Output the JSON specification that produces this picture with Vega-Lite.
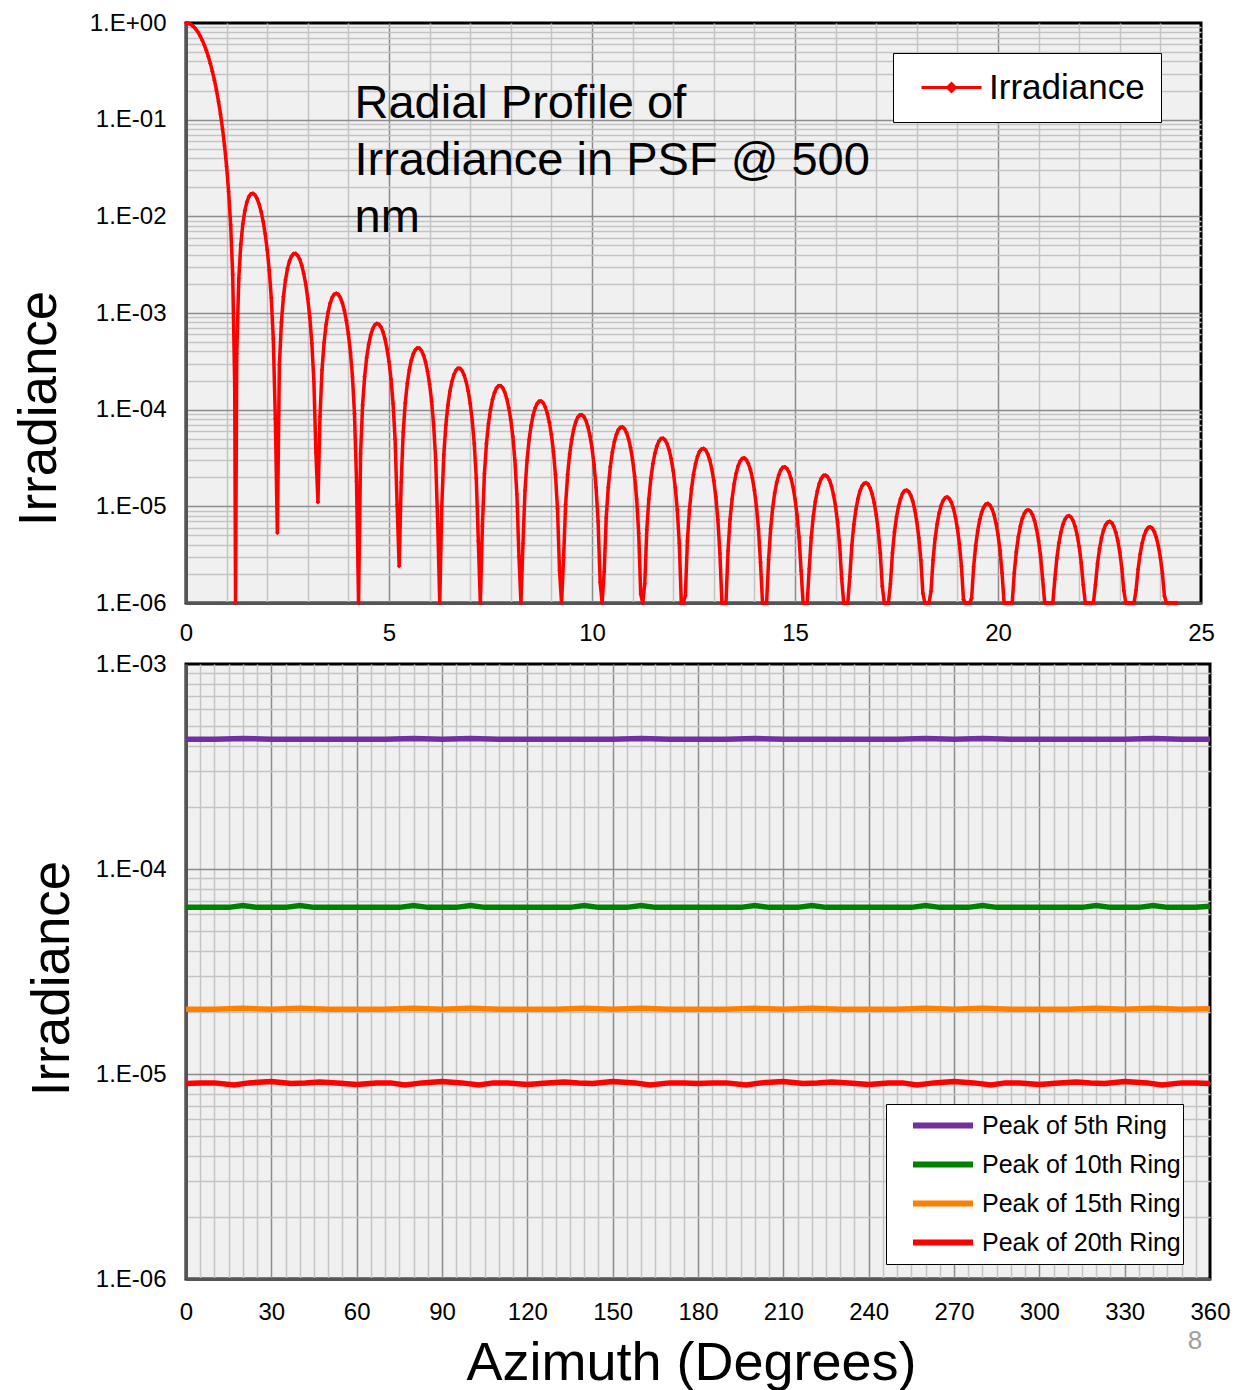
{
"$schema": "https://vega.github.io/schema/vega-lite/v6.json",
"background": "white",
"padding": {"left": 11, "top": 9, "right": 5, "bottom": 5},
"spacing": 3,
"config": {
  "view": {"fill": "#F0F0F0", "stroke": "#000000", "strokeWidth": 3},
  "font": "Liberation Sans"
},
"resolve": {"scale": {"color": "independent", "x": "independent", "y": "independent"}, "legend": {"color": "independent"}},
"vconcat": [
{
  "width": 1015, "height": 580,
  "layer": [
  {
    "data": {"values": [
{"r":0,"I":1},{"r":0.05,"I":0.9939},{"r":0.1,"I":0.9756},{"r":0.15,"I":0.9458},{"r":0.2,"I":0.9053},{"r":0.25,"I":0.8554},{"r":0.3,"I":0.7975},{"r":0.35,"I":0.7332},{"r":0.4,"I":0.6645},{"r":0.45,"I":0.5931},{"r":0.5,"I":0.5209},{"r":0.55,"I":0.4498},{"r":0.6,"I":0.3806},{"r":0.65,"I":0.3157},{"r":0.7,"I":0.2558},{"r":0.75,"I":0.2018},{"r":0.8,"I":0.1544},{"r":0.85,"I":0.1139},{"r":0.9,"I":0.0803},{"r":0.95,"I":0.0534},
{"r":1,"I":0.0328},{"r":1.05,"I":0.01799},{"r":1.1,"I":0.00814},{"r":1.15,"I":0.00249},{"r":1.2,"I":1.77e-4},{"r":1.22,"I":1e-7},{"r":1.25,"I":3.82e-4},{"r":1.3,"I":2.27e-3},{"r":1.35,"I":5.13e-3},{"r":1.4,"I":8.35e-3},{"r":1.45,"I":0.01146},{"r":1.5,"I":0.0141},{"r":1.55,"I":0.016},{"r":1.6,"I":0.01706},{"r":1.65,"I":0.01724},{"r":1.7,"I":0.01659},{"r":1.75,"I":0.01525},{"r":1.8,"I":0.01339},{"r":1.85,"I":0.0112},{"r":1.9,"I":0.00887},{"r":1.95,"I":0.00659},
{"r":2,"I":0.00452},{"r":2.05,"I":0.00278},{"r":2.1,"I":0.00144},{"r":2.15,"I":5.4e-4},{"r":2.2,"I":8.1e-5},{"r":2.25,"I":5.3e-6},{"r":2.3,"I":2.91e-4},{"r":2.35,"I":8.05e-4},{"r":2.4,"I":1.472e-3},{"r":2.45,"I":2.192e-3},{"r":2.5,"I":2.879e-3},{"r":2.55,"I":3.459e-3},{"r":2.6,"I":3.877e-3},{"r":2.65,"I":4.101e-3},{"r":2.7,"I":4.12e-3},{"r":2.75,"I":3.942e-3},{"r":2.8,"I":3.594e-3},{"r":2.85,"I":3.117e-3},{"r":2.9,"I":2.558e-3},{"r":2.95,"I":1.969e-3},
{"r":3,"I":1.4e-3},{"r":3.05,"I":8.94e-4},{"r":3.1,"I":4.85e-4},{"r":3.15,"I":1.95e-4},{"r":3.2,"I":3.58e-5},{"r":3.25,"I":1.1e-5},{"r":3.3,"I":8.43e-5},{"r":3.35,"I":2.57e-4},{"r":3.4,"I":4.91e-4},{"r":3.45,"I":7.58e-4},{"r":3.5,"I":1.023e-3},{"r":3.55,"I":1.26e-3},{"r":3.6,"I":1.444e-3},{"r":3.65,"I":1.559e-3},{"r":3.7,"I":1.596e-3},{"r":3.75,"I":1.556e-3},{"r":3.8,"I":1.444e-3},{"r":3.85,"I":1.275e-3},{"r":3.9,"I":1.064e-3},{"r":3.95,"I":8.34e-4},
{"r":4,"I":6.03e-4},{"r":4.05,"I":3.93e-4},{"r":4.1,"I":2.18e-4},{"r":4.15,"I":9.11e-5},{"r":4.2,"I":1.82e-5},{"r":4.25,"I":8.5e-7},{"r":4.3,"I":3.49e-5},{"r":4.35,"I":1.12e-4},{"r":4.4,"I":2.2e-4},{"r":4.45,"I":3.46e-4},{"r":4.5,"I":4.75e-4},{"r":4.55,"I":5.92e-4},{"r":4.6,"I":6.87e-4},{"r":4.65,"I":7.51e-4},{"r":4.7,"I":7.77e-4},{"r":4.75,"I":7.66e-4},{"r":4.8,"I":7.18e-4},{"r":4.85,"I":6.41e-4},{"r":4.9,"I":5.4e-4},{"r":4.95,"I":4.28e-4},
{"r":5,"I":3.13e-4},{"r":5.05,"I":2.06e-4},{"r":5.1,"I":1.16e-4},{"r":5.15,"I":4.95e-5},{"r":5.2,"I":1.04e-5},{"r":5.25,"I":2.4e-6},{"r":5.3,"I":1.76e-5},{"r":5.35,"I":5.85e-5},{"r":5.4,"I":1.17e-4},{"r":5.45,"I":1.86e-4},{"r":5.5,"I":2.58e-4},{"r":5.55,"I":3.24e-4},{"r":5.6,"I":3.79e-4},{"r":5.65,"I":4.17e-4},{"r":5.7,"I":4.35e-4},{"r":5.75,"I":4.32e-4},{"r":5.8,"I":4.08e-4},{"r":5.85,"I":3.66e-4},{"r":5.9,"I":3.11e-4},{"r":5.95,"I":2.48e-4},
{"r":6,"I":1.83e-4},{"r":6.05,"I":1.22e-4},{"r":6.1,"I":6.93e-5},{"r":6.15,"I":3e-5},{"r":6.2,"I":6.6e-6},{"r":6.25,"I":1.1e-7},{"r":6.3,"I":1e-5},{"r":6.35,"I":3.41e-5},{"r":6.4,"I":6.93e-5},{"r":6.45,"I":1.11e-4},{"r":6.5,"I":1.55e-4},{"r":6.55,"I":1.96e-4},{"r":6.6,"I":2.31e-4},{"r":6.65,"I":2.56e-4},{"r":6.7,"I":2.68e-4},{"r":6.75,"I":2.67e-4},{"r":6.8,"I":2.53e-4},{"r":6.85,"I":2.28e-4},{"r":6.9,"I":1.95e-4},{"r":6.95,"I":1.56e-4},
{"r":7,"I":1.16e-4},{"r":7.05,"I":7.75e-5},{"r":7.1,"I":4.44e-5},{"r":7.15,"I":1.94e-5},{"r":7.2,"I":4.37e-6},{"r":7.25,"I":5e-8},{"r":7.3,"I":6.24e-6},{"r":7.35,"I":2.17e-5},{"r":7.4,"I":4.44e-5},{"r":7.45,"I":7.16e-5},{"r":7.5,"I":1.004e-4},{"r":7.55,"I":1.277e-4},{"r":7.6,"I":1.509e-4},{"r":7.65,"I":1.676e-4},{"r":7.7,"I":1.763e-4},{"r":7.75,"I":1.764e-4},{"r":7.8,"I":1.68e-4},{"r":7.85,"I":1.52e-4},{"r":7.9,"I":1.301e-4},{"r":7.95,"I":1.045e-4},
{"r":8,"I":7.81e-5},{"r":8.05,"I":5.24e-5},{"r":8.1,"I":3.02e-5},{"r":8.15,"I":1.33e-5},{"r":8.2,"I":3.07e-6},{"r":8.25,"I":1e-8},{"r":8.3,"I":4.12e-6},{"r":8.35,"I":1.46e-5},{"r":8.4,"I":3e-5},{"r":8.45,"I":4.87e-5},{"r":8.5,"I":6.86e-5},{"r":8.55,"I":8.76e-5},{"r":8.6,"I":1.039e-4},{"r":8.65,"I":1.157e-4},{"r":8.7,"I":1.222e-4},{"r":8.75,"I":1.226e-4},{"r":8.8,"I":1.171e-4},{"r":8.85,"I":1.063e-4},{"r":8.9,"I":9.12e-5},{"r":8.95,"I":7.36e-5},
{"r":9,"I":5.49e-5},{"r":9.05,"I":3.69e-5},{"r":9.1,"I":2.13e-5},{"r":9.15,"I":9.43e-6},{"r":9.2,"I":2.17e-6},{"r":9.25,"I":1e-8},{"r":9.3,"I":2.93e-6},{"r":9.35,"I":1.04e-5},{"r":9.4,"I":2.14e-5},{"r":9.45,"I":3.48e-5},{"r":9.5,"I":4.92e-5},{"r":9.55,"I":6.29e-5},{"r":9.6,"I":7.47e-5},{"r":9.65,"I":8.34e-5},{"r":9.7,"I":8.81e-5},{"r":9.75,"I":8.86e-5},{"r":9.8,"I":8.48e-5},{"r":9.85,"I":7.71e-5},{"r":9.9,"I":6.63e-5},{"r":9.95,"I":5.35e-5},
{"r":10,"I":4.02e-5},{"r":10.05,"I":2.71e-5},{"r":10.1,"I":1.57e-5},{"r":10.15,"I":7e-6},{"r":10.2,"I":1.64e-6},{"r":10.25,"I":1e-8},{"r":10.3,"I":2.1e-6},{"r":10.35,"I":7.56e-6},{"r":10.4,"I":1.57e-5},{"r":10.45,"I":2.56e-5},{"r":10.5,"I":3.63e-5},{"r":10.55,"I":4.65e-5},{"r":10.6,"I":5.54e-5},{"r":10.65,"I":6.19e-5},{"r":10.7,"I":6.56e-5},{"r":10.75,"I":6.61e-5},{"r":10.8,"I":6.34e-5},{"r":10.85,"I":5.77e-5},{"r":10.9,"I":4.98e-5},{"r":10.95,"I":4.03e-5},
{"r":11,"I":3.02e-5},{"r":11.05,"I":2.04e-5},{"r":11.1,"I":1.19e-5},{"r":11.15,"I":5.28e-6},{"r":11.2,"I":1.24e-6},{"r":11.25,"I":1e-8},{"r":11.3,"I":1.59e-6},{"r":11.35,"I":5.73e-6},{"r":11.4,"I":1.19e-5},{"r":11.45,"I":1.95e-5},{"r":11.5,"I":2.76e-5},{"r":11.55,"I":3.54e-5},{"r":11.6,"I":4.22e-5},{"r":11.65,"I":4.73e-5},{"r":11.7,"I":5.02e-5},{"r":11.75,"I":5.06e-5},{"r":11.8,"I":4.86e-5},{"r":11.85,"I":4.43e-5},{"r":11.9,"I":3.83e-5},{"r":11.95,"I":3.1e-5},
{"r":12,"I":2.34e-5},{"r":12.05,"I":1.58e-5},{"r":12.1,"I":9.23e-6},{"r":12.15,"I":4.14e-6},{"r":12.2,"I":9.9e-7},{"r":12.25,"I":1e-8},{"r":12.3,"I":1.2e-6},{"r":12.35,"I":4.39e-6},{"r":12.4,"I":9.18e-6},{"r":12.45,"I":1.51e-5},{"r":12.5,"I":2.14e-5},{"r":12.55,"I":2.75e-5},{"r":12.6,"I":3.29e-5},{"r":12.65,"I":3.69e-5},{"r":12.7,"I":3.92e-5},{"r":12.75,"I":3.96e-5},{"r":12.8,"I":3.81e-5},{"r":12.85,"I":3.48e-5},{"r":12.9,"I":3.01e-5},{"r":12.95,"I":2.44e-5},
{"r":13,"I":1.84e-5},{"r":13.05,"I":1.25e-5},{"r":13.1,"I":7.27e-6},{"r":13.15,"I":3.27e-6},{"r":13.2,"I":7.8e-7},{"r":13.25,"I":1e-8},{"r":13.3,"I":9.5e-7},{"r":13.35,"I":3.48e-6},{"r":13.4,"I":7.28e-6},{"r":13.45,"I":1.19e-5},{"r":13.5,"I":1.7e-5},{"r":13.55,"I":2.19e-5},{"r":13.6,"I":2.62e-5},{"r":13.65,"I":2.94e-5},{"r":13.7,"I":3.12e-5},{"r":13.75,"I":3.16e-5},{"r":13.8,"I":3.04e-5},{"r":13.85,"I":2.78e-5},{"r":13.9,"I":2.41e-5},{"r":13.95,"I":1.96e-5},
{"r":14,"I":1.47e-5},{"r":14.05,"I":9.99e-6},{"r":14.1,"I":5.83e-6},{"r":14.15,"I":2.62e-6},{"r":14.2,"I":6.3e-7},{"r":14.25,"I":1e-8},{"r":14.3,"I":7.7e-7},{"r":14.35,"I":2.8e-6},{"r":14.4,"I":5.86e-6},{"r":14.45,"I":9.63e-6},{"r":14.5,"I":1.37e-5},{"r":14.55,"I":1.77e-5},{"r":14.6,"I":2.11e-5},{"r":14.65,"I":2.38e-5},{"r":14.7,"I":2.53e-5},{"r":14.75,"I":2.56e-5},{"r":14.8,"I":2.46e-5},{"r":14.85,"I":2.26e-5},{"r":14.9,"I":1.95e-5},{"r":14.95,"I":1.59e-5},
{"r":15,"I":1.2e-5},{"r":15.05,"I":8.16e-6},{"r":15.1,"I":4.78e-6},{"r":15.15,"I":2.16e-6},{"r":15.2,"I":5.2e-7},{"r":15.25,"I":1e-8},{"r":15.3,"I":6.1e-7},{"r":15.35,"I":2.26e-6},{"r":15.4,"I":4.76e-6},{"r":15.45,"I":7.84e-6},{"r":15.5,"I":1.12e-5},{"r":15.55,"I":1.44e-5},{"r":15.6,"I":1.73e-5},{"r":15.65,"I":1.95e-5},{"r":15.7,"I":2.08e-5},{"r":15.75,"I":2.1e-5},{"r":15.8,"I":2.03e-5},{"r":15.85,"I":1.86e-5},{"r":15.9,"I":1.61e-5},{"r":15.95,"I":1.31e-5},
{"r":16,"I":9.89e-6},{"r":16.05,"I":6.73e-6},{"r":16.1,"I":3.95e-6},{"r":16.15,"I":1.78e-6},{"r":16.2,"I":4.3e-7},{"r":16.25,"I":1e-8},{"r":16.3,"I":5.1e-7},{"r":16.35,"I":1.87e-6},{"r":16.4,"I":3.94e-6},{"r":16.45,"I":6.5e-6},{"r":16.5,"I":9.27e-6},{"r":16.55,"I":1.2e-5},{"r":16.6,"I":1.44e-5},{"r":16.65,"I":1.62e-5},{"r":16.7,"I":1.72e-5},{"r":16.75,"I":1.75e-5},{"r":16.8,"I":1.69e-5},{"r":16.85,"I":1.55e-5},{"r":16.9,"I":1.34e-5},{"r":16.95,"I":1.09e-5},
{"r":17,"I":8.24e-6},{"r":17.05,"I":5.61e-6},{"r":17.1,"I":3.29e-6},{"r":17.15,"I":1.49e-6},{"r":17.2,"I":3.6e-7},{"r":17.25,"I":1e-8},{"r":17.3,"I":4.2e-7},{"r":17.35,"I":1.57e-6},{"r":17.4,"I":3.3e-6},{"r":17.45,"I":5.44e-6},{"r":17.5,"I":7.77e-6},{"r":17.55,"I":1e-5},{"r":17.6,"I":1.2e-5},{"r":17.65,"I":1.36e-5},{"r":17.7,"I":1.45e-5},{"r":17.75,"I":1.47e-5},{"r":17.8,"I":1.42e-5},{"r":17.85,"I":1.3e-5},{"r":17.9,"I":1.13e-5},{"r":17.95,"I":9.2e-6},
{"r":18,"I":6.94e-6},{"r":18.05,"I":4.73e-6},{"r":18.1,"I":2.78e-6},{"r":18.15,"I":1.26e-6},{"r":18.2,"I":3e-7},{"r":18.25,"I":1e-8},{"r":18.3,"I":3.6e-7},{"r":18.35,"I":1.32e-6},{"r":18.4,"I":2.79e-6},{"r":18.45,"I":4.61e-6},{"r":18.5,"I":6.58e-6},{"r":18.55,"I":8.51e-6},{"r":18.6,"I":1.02e-5},{"r":18.65,"I":1.15e-5},{"r":18.7,"I":1.23e-5},{"r":18.75,"I":1.25e-5},{"r":18.8,"I":1.2e-5},{"r":18.85,"I":1.1e-5},{"r":18.9,"I":9.58e-6},{"r":18.95,"I":7.82e-6},
{"r":19,"I":5.92e-6},{"r":19.05,"I":4.05e-6},{"r":19.1,"I":2.38e-6},{"r":19.15,"I":1.08e-6},{"r":19.2,"I":2.7e-7},{"r":19.25,"I":1e-8},{"r":19.3,"I":3e-7},{"r":19.35,"I":1.12e-6},{"r":19.4,"I":2.37e-6},{"r":19.45,"I":3.91e-6},{"r":19.5,"I":5.6e-6},{"r":19.55,"I":7.25e-6},{"r":19.6,"I":8.71e-6},{"r":19.65,"I":9.82e-6},{"r":19.7,"I":1.05e-5},{"r":19.75,"I":1.07e-5},{"r":19.8,"I":1.03e-5},{"r":19.85,"I":9.46e-6},{"r":19.9,"I":8.23e-6},{"r":19.95,"I":6.72e-6},
{"r":20,"I":5.08e-6},{"r":20.05,"I":3.47e-6},{"r":20.1,"I":2.04e-6},{"r":20.15,"I":9.3e-7},{"r":20.2,"I":2.3e-7},{"r":20.25,"I":1e-8},{"r":20.3,"I":2.6e-7},{"r":20.35,"I":9.6e-7},{"r":20.4,"I":2.03e-6},{"r":20.45,"I":3.37e-6},{"r":20.5,"I":4.82e-6},{"r":20.55,"I":6.24e-6},{"r":20.6,"I":7.5e-6},{"r":20.65,"I":8.47e-6},{"r":20.7,"I":9.05e-6},{"r":20.75,"I":9.19e-6},{"r":20.8,"I":8.89e-6},{"r":20.85,"I":8.17e-6},{"r":20.9,"I":7.11e-6},{"r":20.95,"I":5.8e-6},
{"r":21,"I":4.39e-6},{"r":21.05,"I":3e-6},{"r":21.1,"I":1.76e-6},{"r":21.15,"I":8e-7},{"r":21.2,"I":2e-7},{"r":21.25,"I":1e-8},{"r":21.3,"I":2.2e-7},{"r":21.35,"I":8.3e-7},{"r":21.4,"I":1.76e-6},{"r":21.45,"I":2.92e-6},{"r":21.5,"I":4.17e-6},{"r":21.55,"I":5.41e-6},{"r":21.6,"I":6.5e-6},{"r":21.65,"I":7.34e-6},{"r":21.7,"I":7.85e-6},{"r":21.75,"I":7.98e-6},{"r":21.8,"I":7.72e-6},{"r":21.85,"I":7.1e-6},{"r":21.9,"I":6.17e-6},{"r":21.95,"I":5.04e-6},
{"r":22,"I":3.82e-6},{"r":22.05,"I":2.61e-6},{"r":22.1,"I":1.54e-6},{"r":22.15,"I":7e-7},{"r":22.2,"I":1.7e-7},{"r":22.25,"I":1e-8},{"r":22.3,"I":1.9e-7},{"r":22.35,"I":7.3e-7},{"r":22.4,"I":1.54e-6},{"r":22.45,"I":2.54e-6},{"r":22.5,"I":3.64e-6},{"r":22.55,"I":4.72e-6},{"r":22.6,"I":5.68e-6},{"r":22.65,"I":6.42e-6},{"r":22.7,"I":6.86e-6},{"r":22.75,"I":6.98e-6},{"r":22.8,"I":6.75e-6},{"r":22.85,"I":6.2e-6},{"r":22.9,"I":5.4e-6},{"r":22.95,"I":4.41e-6},
{"r":23,"I":3.34e-6},{"r":23.05,"I":2.28e-6},{"r":23.1,"I":1.34e-6},{"r":23.15,"I":6.1e-7},{"r":23.2,"I":1.5e-7},{"r":23.25,"I":1e-8},{"r":23.3,"I":1.7e-7},{"r":23.35,"I":6.4e-7},{"r":23.4,"I":1.35e-6},{"r":23.45,"I":2.23e-6},{"r":23.5,"I":3.2e-6},{"r":23.55,"I":4.15e-6},{"r":23.6,"I":4.99e-6},{"r":23.65,"I":5.64e-6},{"r":23.7,"I":6.03e-6},{"r":23.75,"I":6.13e-6},{"r":23.8,"I":5.93e-6},{"r":23.85,"I":5.45e-6},{"r":23.9,"I":4.75e-6},{"r":23.95,"I":3.88e-6},
{"r":24,"I":2.94e-6},{"r":24.05,"I":2.01e-6},{"r":24.1,"I":1.18e-6},{"r":24.15,"I":5.4e-7},{"r":24.2,"I":1.3e-7},{"r":24.25,"I":1e-8},{"r":24.3,"I":1e-8},{"r":24.35,"I":1e-8},{"r":24.4,"I":1e-8}
    ]},
    "mark": {"type": "line", "strokeWidth": 3.5, "point": {"filled": true, "size": 20, "shape": "diamond"}},
    "encoding": {
      "x": {"field": "r", "type": "quantitative",
        "scale": {"domain": [0, 25], "nice": false, "zero": false},
        "axis": {"values": [0,1,2,3,4,5,6,7,8,9,10,11,12,13,14,15,16,17,18,19,20,21,22,23,24,25], "tickCount": 1000, "format": "d",
          "labelExpr": "datum.value % 5 === 0 ? datum.label : ''", "labelOverlap": false, "labelFlush": false,
          "labelFont": "Liberation Sans", "labelFontSize": 24, "labelColor": "#000000", "labelPadding": 18,
          "ticks": false, "domainColor": "#555555", "domainWidth": 3,
          "gridColor": {"condition": {"test": "datum.value % 5 === 0", "value": "#8c8c8c"}, "value": "#c4c4c4"},
          "gridOpacity": {"condition": {"test": "datum.value === 0 || datum.value === 25", "value": 0}, "value": 1},
          "gridWidth": 1.5, "title": null}},
      "y": {"field": "I", "type": "quantitative",
        "scale": {"type": "log", "domain": [1e-6, 1], "nice": false, "clamp": true},
        "axis": {"values": [1e-6,2e-6,3e-6,4e-6,5e-6,6e-6,7e-6,8e-6,9e-6,1e-5,2e-5,3e-5,4e-5,5e-5,6e-5,7e-5,8e-5,9e-5,1e-4,2e-4,3e-4,4e-4,5e-4,6e-4,7e-4,8e-4,9e-4,1e-3,2e-3,3e-3,4e-3,5e-3,6e-3,7e-3,8e-3,9e-3,0.01,0.02,0.03,0.04,0.05,0.06,0.07,0.08,0.09,0.1,0.2,0.3,0.4,0.5,0.6,0.7,0.8,0.9,1], "tickCount": 1000,
          "labelExpr": "abs(log(datum.value)/LN10 - round(log(datum.value)/LN10)) < 0.001 ? ('1.E' + (round(log(datum.value)/LN10) < 0 ? '-0' + abs(round(log(datum.value)/LN10)) : '+00')) : ''",
          "labelOverlap": false, "labelFont": "Liberation Sans", "labelFontSize": 24, "labelColor": "#000000", "labelPadding": 20,
          "ticks": false, "domainColor": "#555555", "domainWidth": 3,
          "gridColor": {"condition": {"test": "abs(log(datum.value)/LN10 - round(log(datum.value)/LN10)) < 0.001", "value": "#8c8c8c"}, "value": "#c4c4c4"},
          "gridOpacity": {"condition": {"test": "datum.value > 0.95", "value": 0}, "value": 1},
          "gridWidth": 1.5,
          "title": "Irradiance", "titleFont": "Liberation Sans", "titleFontSize": 53, "titleFontWeight": "normal", "titleColor": "#000000",
          "titleAngle": -90, "titleAlign": "center", "titleBaseline": "alphabetic", "titleX": -131, "titleY": 385}},
      "color": {"datum": "Irradiance", "scale": {"range": ["#FF0000"]},
        "legend": {"orient": "none", "legendX": 707, "legendY": 30, "title": null,
          "symbolType": "M-1,0H1M-0.13,0L0,-0.13L0.13,0L0,0.13Z", "symbolSize": 3600, "symbolStrokeWidth": 3, "symbolFillColor": "#FF0000",
          "labelFont": "Liberation Sans", "labelFontSize": 35, "labelColor": "#000000", "labelOffset": 6, "labelLimit": 400,
          "padding": 16, "symbolOffset": 11, "clipHeight": 37,
          "strokeColor": "#000000", "fillColor": "#FFFFFF"}}
    }
  },
  {
    "data": {"values": [{"tx": 4.15, "ty": 0.104}]},
    "mark": {"type": "text", "text": ["Radial Profile of", "Irradiance in PSF @ 500", "nm"], "align": "left", "baseline": "alphabetic", "fontSize": 47, "lineHeight": 57, "font": "Liberation Sans", "color": "#000000"},
    "encoding": {"x": {"field": "tx", "type": "quantitative"}, "y": {"field": "ty", "type": "quantitative"}}
  }
  ]
},
{
  "width": 1024, "height": 615,
  "layer": [
  {
    "data": {"values": [
{"a":0,"v":4.3e-4,"s":"5"},{"a":10,"v":4.3e-4,"s":"5"},{"a":20,"v":4.33e-4,"s":"5"},{"a":30,"v":4.3e-4,"s":"5"},{"a":40,"v":4.3e-4,"s":"5"},{"a":50,"v":4.3e-4,"s":"5"},{"a":60,"v":4.3e-4,"s":"5"},{"a":70,"v":4.3e-4,"s":"5"},{"a":80,"v":4.33e-4,"s":"5"},{"a":90,"v":4.3e-4,"s":"5"},{"a":100,"v":4.33e-4,"s":"5"},{"a":110,"v":4.3e-4,"s":"5"},{"a":120,"v":4.3e-4,"s":"5"},{"a":130,"v":4.3e-4,"s":"5"},{"a":140,"v":4.3e-4,"s":"5"},{"a":150,"v":4.3e-4,"s":"5"},{"a":160,"v":4.33e-4,"s":"5"},{"a":170,"v":4.3e-4,"s":"5"},{"a":180,"v":4.3e-4,"s":"5"},{"a":190,"v":4.3e-4,"s":"5"},{"a":200,"v":4.33e-4,"s":"5"},{"a":210,"v":4.3e-4,"s":"5"},{"a":220,"v":4.3e-4,"s":"5"},{"a":230,"v":4.3e-4,"s":"5"},{"a":240,"v":4.3e-4,"s":"5"},{"a":250,"v":4.3e-4,"s":"5"},{"a":260,"v":4.33e-4,"s":"5"},{"a":270,"v":4.3e-4,"s":"5"},{"a":280,"v":4.33e-4,"s":"5"},{"a":290,"v":4.3e-4,"s":"5"},{"a":300,"v":4.3e-4,"s":"5"},{"a":310,"v":4.3e-4,"s":"5"},{"a":320,"v":4.3e-4,"s":"5"},{"a":330,"v":4.3e-4,"s":"5"},{"a":340,"v":4.33e-4,"s":"5"},{"a":350,"v":4.3e-4,"s":"5"},{"a":360,"v":4.3e-4,"s":"5"},
{"a":0,"v":6.5e-5,"s":"10"},{"a":5,"v":6.5e-5,"s":"10"},{"a":10,"v":6.5e-5,"s":"10"},{"a":15,"v":6.5e-5,"s":"10"},{"a":20,"v":6.64e-5,"s":"10"},{"a":25,"v":6.5e-5,"s":"10"},{"a":30,"v":6.5e-5,"s":"10"},{"a":35,"v":6.5e-5,"s":"10"},{"a":40,"v":6.64e-5,"s":"10"},{"a":45,"v":6.5e-5,"s":"10"},{"a":50,"v":6.5e-5,"s":"10"},{"a":55,"v":6.5e-5,"s":"10"},{"a":60,"v":6.5e-5,"s":"10"},{"a":65,"v":6.5e-5,"s":"10"},{"a":70,"v":6.5e-5,"s":"10"},{"a":75,"v":6.5e-5,"s":"10"},{"a":80,"v":6.64e-5,"s":"10"},{"a":85,"v":6.5e-5,"s":"10"},{"a":90,"v":6.5e-5,"s":"10"},{"a":95,"v":6.5e-5,"s":"10"},{"a":100,"v":6.64e-5,"s":"10"},{"a":105,"v":6.5e-5,"s":"10"},{"a":110,"v":6.5e-5,"s":"10"},{"a":115,"v":6.5e-5,"s":"10"},{"a":120,"v":6.5e-5,"s":"10"},{"a":125,"v":6.5e-5,"s":"10"},{"a":130,"v":6.5e-5,"s":"10"},{"a":135,"v":6.5e-5,"s":"10"},{"a":140,"v":6.64e-5,"s":"10"},{"a":145,"v":6.5e-5,"s":"10"},{"a":150,"v":6.5e-5,"s":"10"},{"a":155,"v":6.5e-5,"s":"10"},{"a":160,"v":6.64e-5,"s":"10"},{"a":165,"v":6.5e-5,"s":"10"},{"a":170,"v":6.5e-5,"s":"10"},{"a":175,"v":6.5e-5,"s":"10"},{"a":180,"v":6.5e-5,"s":"10"},{"a":185,"v":6.5e-5,"s":"10"},{"a":190,"v":6.5e-5,"s":"10"},{"a":195,"v":6.5e-5,"s":"10"},{"a":200,"v":6.64e-5,"s":"10"},{"a":205,"v":6.5e-5,"s":"10"},{"a":210,"v":6.5e-5,"s":"10"},{"a":215,"v":6.5e-5,"s":"10"},{"a":220,"v":6.64e-5,"s":"10"},{"a":225,"v":6.5e-5,"s":"10"},{"a":230,"v":6.5e-5,"s":"10"},{"a":235,"v":6.5e-5,"s":"10"},{"a":240,"v":6.5e-5,"s":"10"},{"a":245,"v":6.5e-5,"s":"10"},{"a":250,"v":6.5e-5,"s":"10"},{"a":255,"v":6.5e-5,"s":"10"},{"a":260,"v":6.64e-5,"s":"10"},{"a":265,"v":6.5e-5,"s":"10"},{"a":270,"v":6.5e-5,"s":"10"},{"a":275,"v":6.5e-5,"s":"10"},{"a":280,"v":6.64e-5,"s":"10"},{"a":285,"v":6.5e-5,"s":"10"},{"a":290,"v":6.5e-5,"s":"10"},{"a":295,"v":6.5e-5,"s":"10"},{"a":300,"v":6.5e-5,"s":"10"},{"a":305,"v":6.5e-5,"s":"10"},{"a":310,"v":6.5e-5,"s":"10"},{"a":315,"v":6.5e-5,"s":"10"},{"a":320,"v":6.64e-5,"s":"10"},{"a":325,"v":6.5e-5,"s":"10"},{"a":330,"v":6.5e-5,"s":"10"},{"a":335,"v":6.5e-5,"s":"10"},{"a":340,"v":6.64e-5,"s":"10"},{"a":345,"v":6.5e-5,"s":"10"},{"a":350,"v":6.5e-5,"s":"10"},{"a":355,"v":6.5e-5,"s":"10"},{"a":360,"v":6.58e-5,"s":"10"},
{"a":0,"v":2.07e-5,"s":"15"},{"a":10,"v":2.07e-5,"s":"15"},{"a":20,"v":2.09e-5,"s":"15"},{"a":30,"v":2.07e-5,"s":"15"},{"a":40,"v":2.09e-5,"s":"15"},{"a":50,"v":2.07e-5,"s":"15"},{"a":60,"v":2.07e-5,"s":"15"},{"a":70,"v":2.07e-5,"s":"15"},{"a":80,"v":2.09e-5,"s":"15"},{"a":90,"v":2.07e-5,"s":"15"},{"a":100,"v":2.09e-5,"s":"15"},{"a":110,"v":2.07e-5,"s":"15"},{"a":120,"v":2.07e-5,"s":"15"},{"a":130,"v":2.07e-5,"s":"15"},{"a":140,"v":2.09e-5,"s":"15"},{"a":150,"v":2.07e-5,"s":"15"},{"a":160,"v":2.09e-5,"s":"15"},{"a":170,"v":2.07e-5,"s":"15"},{"a":180,"v":2.07e-5,"s":"15"},{"a":190,"v":2.07e-5,"s":"15"},{"a":200,"v":2.09e-5,"s":"15"},{"a":210,"v":2.07e-5,"s":"15"},{"a":220,"v":2.09e-5,"s":"15"},{"a":230,"v":2.07e-5,"s":"15"},{"a":240,"v":2.07e-5,"s":"15"},{"a":250,"v":2.07e-5,"s":"15"},{"a":260,"v":2.09e-5,"s":"15"},{"a":270,"v":2.07e-5,"s":"15"},{"a":280,"v":2.09e-5,"s":"15"},{"a":290,"v":2.07e-5,"s":"15"},{"a":300,"v":2.07e-5,"s":"15"},{"a":310,"v":2.07e-5,"s":"15"},{"a":320,"v":2.09e-5,"s":"15"},{"a":330,"v":2.07e-5,"s":"15"},{"a":340,"v":2.09e-5,"s":"15"},{"a":350,"v":2.07e-5,"s":"15"},{"a":360,"v":2.08e-5,"s":"15"},
{"a":0,"v":9.0e-6,"s":"20"},{"a":5,"v":9.05e-6,"s":"20"},{"a":10,"v":9.05e-6,"s":"20"},{"a":17,"v":8.85e-6,"s":"20"},{"a":22,"v":9.05e-6,"s":"20"},{"a":30,"v":9.2e-6,"s":"20"},{"a":37,"v":9.0e-6,"s":"20"},{"a":42,"v":9.05e-6,"s":"20"},{"a":47,"v":9.15e-6,"s":"20"},{"a":53,"v":9.05e-6,"s":"20"},{"a":60,"v":8.9e-6,"s":"20"},{"a":67,"v":9.05e-6,"s":"20"},{"a":72,"v":9.05e-6,"s":"20"},{"a":77,"v":8.85e-6,"s":"20"},{"a":83,"v":9.05e-6,"s":"20"},{"a":90,"v":9.2e-6,"s":"20"},{"a":97,"v":9.05e-6,"s":"20"},{"a":103,"v":8.85e-6,"s":"20"},{"a":108,"v":9.05e-6,"s":"20"},{"a":113,"v":9.05e-6,"s":"20"},{"a":120,"v":8.9e-6,"s":"20"},{"a":127,"v":9.05e-6,"s":"20"},{"a":133,"v":9.15e-6,"s":"20"},{"a":138,"v":9.05e-6,"s":"20"},{"a":143,"v":9.0e-6,"s":"20"},{"a":150,"v":9.2e-6,"s":"20"},{"a":158,"v":9.05e-6,"s":"20"},{"a":163,"v":8.85e-6,"s":"20"},{"a":170,"v":9.05e-6,"s":"20"},{"a":175,"v":9.05e-6,"s":"20"},{"a":180,"v":9.0e-6,"s":"20"},{"a":185,"v":9.05e-6,"s":"20"},{"a":190,"v":9.05e-6,"s":"20"},{"a":197,"v":8.85e-6,"s":"20"},{"a":202,"v":9.05e-6,"s":"20"},{"a":210,"v":9.2e-6,"s":"20"},{"a":217,"v":9.0e-6,"s":"20"},{"a":222,"v":9.05e-6,"s":"20"},{"a":227,"v":9.15e-6,"s":"20"},{"a":233,"v":9.05e-6,"s":"20"},{"a":240,"v":8.9e-6,"s":"20"},{"a":247,"v":9.05e-6,"s":"20"},{"a":252,"v":9.05e-6,"s":"20"},{"a":257,"v":8.85e-6,"s":"20"},{"a":263,"v":9.05e-6,"s":"20"},{"a":270,"v":9.2e-6,"s":"20"},{"a":277,"v":9.05e-6,"s":"20"},{"a":283,"v":8.85e-6,"s":"20"},{"a":288,"v":9.05e-6,"s":"20"},{"a":293,"v":9.05e-6,"s":"20"},{"a":300,"v":8.9e-6,"s":"20"},{"a":307,"v":9.05e-6,"s":"20"},{"a":313,"v":9.15e-6,"s":"20"},{"a":318,"v":9.05e-6,"s":"20"},{"a":323,"v":9.0e-6,"s":"20"},{"a":330,"v":9.2e-6,"s":"20"},{"a":338,"v":9.05e-6,"s":"20"},{"a":343,"v":8.85e-6,"s":"20"},{"a":350,"v":9.05e-6,"s":"20"},{"a":355,"v":9.05e-6,"s":"20"},{"a":360,"v":9.0e-6,"s":"20"}
    ]},
    "mark": {"type": "line", "strokeWidth": 5.5},
    "encoding": {
      "x": {"field": "a", "type": "quantitative",
        "scale": {"domain": [0, 360], "nice": false, "zero": false},
        "axis": {"values": [0,5,10,15,20,25,30,35,40,45,50,55,60,65,70,75,80,85,90,95,100,105,110,115,120,125,130,135,140,145,150,155,160,165,170,175,180,185,190,195,200,205,210,215,220,225,230,235,240,245,250,255,260,265,270,275,280,285,290,295,300,305,310,315,320,325,330,335,340,345,350,355,360], "tickCount": 1000, "format": "d",
          "labelExpr": "datum.value % 30 === 0 ? datum.label : ''", "labelOverlap": false, "labelFlush": false,
          "labelFont": "Liberation Sans", "labelFontSize": 24, "labelColor": "#000000", "labelPadding": 21,
          "ticks": false, "domainColor": "#555555", "domainWidth": 3,
          "gridColor": {"condition": {"test": "datum.value % 30 === 0", "value": "#8c8c8c"}, "value": "#c4c4c4"},
          "gridOpacity": {"condition": {"test": "datum.value === 0 || datum.value === 360", "value": 0}, "value": 1},
          "gridWidth": 1.5,
          "title": "Azimuth (Degrees)", "titleFont": "Liberation Sans", "titleFontSize": 54, "titleFontWeight": "normal", "titleColor": "#000000",
          "titleAlign": "center", "titleBaseline": "alphabetic", "titleX": 505, "titleY": 100}},
      "y": {"field": "v", "type": "quantitative",
        "scale": {"type": "log", "domain": [1e-6, 1e-3], "nice": false},
        "axis": {"values": [1e-6,2e-6,3e-6,4e-6,5e-6,6e-6,7e-6,8e-6,9e-6,1e-5,2e-5,3e-5,4e-5,5e-5,6e-5,7e-5,8e-5,9e-5,1e-4,2e-4,3e-4,4e-4,5e-4,6e-4,7e-4,8e-4,9e-4,1e-3], "tickCount": 1000,
          "labelExpr": "abs(log(datum.value)/LN10 - round(log(datum.value)/LN10)) < 0.001 ? ('1.E-0' + abs(round(log(datum.value)/LN10))) : ''",
          "labelOverlap": false, "labelFont": "Liberation Sans", "labelFontSize": 24, "labelColor": "#000000", "labelPadding": 20,
          "ticks": false, "domainColor": "#555555", "domainWidth": 3,
          "gridColor": {"condition": {"test": "abs(log(datum.value)/LN10 - round(log(datum.value)/LN10)) < 0.001", "value": "#8c8c8c"}, "value": "#c4c4c4"},
          "gridOpacity": {"condition": {"test": "datum.value > 0.00099", "value": 0}, "value": 1},
          "gridWidth": 1.5,
          "title": "Irradiance", "titleFont": "Liberation Sans", "titleFontSize": 53, "titleFontWeight": "normal", "titleColor": "#000000",
          "titleAngle": -90, "titleAlign": "center", "titleBaseline": "alphabetic", "titleX": -118, "titleY": 314}},
      "color": {"field": "s", "type": "nominal",
        "scale": {"domain": ["5", "10", "15", "20"], "range": ["#7030A0", "#008000", "#FF7F00", "#FF0000"]},
        "legend": {"orient": "none", "legendX": 700, "legendY": 440, "title": null,
          "labelExpr": "'Peak of ' + datum.label + 'th Ring'",
          "symbolType": "stroke", "symbolSize": 3600, "symbolStrokeWidth": 6,
          "labelFont": "Liberation Sans", "labelFontSize": 25, "labelColor": "#000000", "labelOffset": 6, "labelLimit": 400,
          "padding": 2, "symbolOffset": 22, "clipHeight": 39, "rowPadding": 0,
          "strokeColor": "#000000", "fillColor": "#FFFFFF"}}
    }
  },
  {
    "data": {"values": [{"tx": 354.7, "ty": 5.0e-7}]},
    "mark": {"type": "text", "text": "8", "align": "center", "baseline": "middle", "fontSize": 26, "font": "Liberation Sans", "color": "#a0a0a0"},
    "encoding": {"x": {"field": "tx", "type": "quantitative"}, "y": {"field": "ty", "type": "quantitative"}}
  }
  ]
}
]
}
